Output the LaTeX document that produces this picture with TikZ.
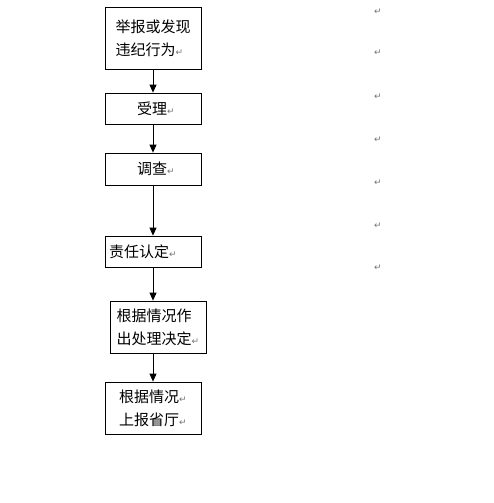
\documentclass[tikz,border=0pt]{standalone}
\usepackage{fontspec}
\setmainfont{Noto Sans CJK SC}
\newfontfamily\markfont{DejaVu Sans}
\usetikzlibrary{arrows.meta,positioning}
\newcommand{\pmark}{{\markfont\fontsize{9}{9}\selectfont\textcolor{black!55}{↵}}}

\begin{document}
\begin{tikzpicture}[x=1pt,y=-1pt,
  box/.style={draw,line width=0.8pt,minimum width=96pt,inner sep=0pt,font=\fontsize{15}{23}\selectfont},
  arr/.style={-{Triangle[length=8pt,width=7pt]},line width=0.8pt},
  pm/.style={inner sep=0pt}
]
\useasboundingbox (0,0) rectangle (494,503);
\node[box,minimum height=62pt,align=left] (report) at (153,38) {举报或发现\\违纪行为\pmark};
\node[box,minimum height=31pt] (accept) at (153,108.5) {\hspace{6pt}受理\pmark};
\node[box,minimum height=32pt] (survey) at (153,169) {\hspace{6pt}调查\pmark};
\node[box,minimum height=31pt,text width=88pt,align=left] (duty) at (153,251.5) {责任认定\pmark};
\node[box,minimum height=52pt,align=left] (decide) at (158,327) {根据情况作\\出处理决定\pmark};
\node[box,minimum height=52pt,align=center] (upper) at (153,408) {根据情况\pmark\\上报省厅\pmark};
% paragraph marks on the right
\foreach \y [count=\i] in {12,53,97,140,183,226,268}
  \node[pm] (mark\i) at (378,\y) {\pmark};
\draw[arr] (report) -- (accept);
\draw[arr] (accept) -- (survey);
\draw[arr] (survey) -- (duty);
\draw[arr] (duty.south) -- (duty.south |- decide.north);
\draw[arr] (upper.north |- decide.south) -- (upper.north);
\end{tikzpicture}
\end{document}
